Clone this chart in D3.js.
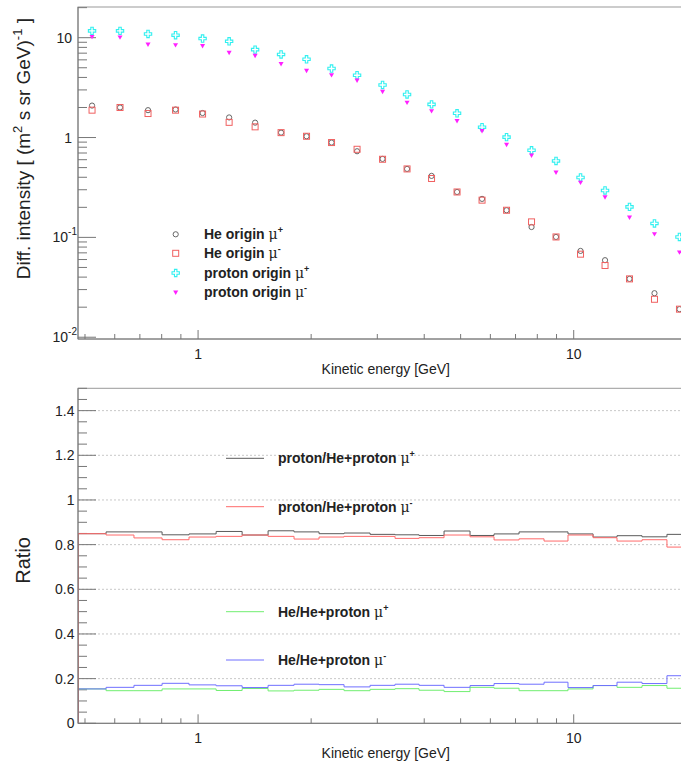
<!DOCTYPE html>
<html>
<head>
<meta charset="utf-8">
<script src="https://cdn.jsdelivr.net/npm/d3@7"></script>
<style>
  body { margin: 0; background: #fff; }
  svg { display: block; font-family: "Liberation Sans", Arial, sans-serif; }
  .frame { fill: none; stroke: #9a9a9a; stroke-width: 1; }
  .tick { stroke: #777; stroke-width: 1; }
  .grid { stroke: #c8c8c8; stroke-width: 1; stroke-dasharray: 2,2; }
  .lbl { font-size: 14px; fill: #222; }
  .leg { font-size: 14px; font-weight: bold; fill: #222; }
</style>
</head>
<body>
<svg id="chart" width="681" height="767"></svg>
<script>
//////////////////////////////////////////////////////////////////////////////////////////
// Data
//////////////////////////////////////////////////////////////////////////////////////////

// kinetic energy bin edges [GeV]
const bin_edges = [0.479, 0.569, 0.675, 0.802, 0.946, 1.117, 1.310, 1.536, 1.801, 2.099,
  2.447, 2.870, 3.345, 3.875, 4.517, 5.297, 6.137, 7.153, 8.337, 9.656,
  11.26, 13.04, 15.20, 17.71, 20.65]

// differential intensity [(m2 s sr GeV)^-1]
const he_mu_plus = [2.09, 2.00, 1.88, 1.91, 1.76, 1.59, 1.41, 1.12, 1.03, 0.891,
  0.729, 0.611, 0.485, 0.413, 0.285, 0.243, 0.187, 0.127, 0.101, 0.0732,
  0.0591, 0.0384, 0.0276, 0.0191]
const he_mu_minus = [1.88, 2.00, 1.74, 1.88, 1.72, 1.42, 1.28, 1.12, 1.03, 0.891,
  0.763, 0.606, 0.485, 0.389, 0.285, 0.236, 0.187, 0.143, 0.101, 0.0679,
  0.0523, 0.0384, 0.0240, 0.0191]
const proton_mu_plus = [11.7, 11.7, 10.9, 10.6, 9.8, 9.2, 7.6, 6.8, 6.08, 4.91,
  4.21, 3.36, 2.70, 2.15, 1.75, 1.27, 1.01, 0.746, 0.583, 0.398,
  0.295, 0.202, 0.138, 0.101]
const proton_mu_minus = [10.3, 10.2, 8.65, 8.53, 8.34, 7.15, 6.67, 5.51, 4.72, 4.27,
  3.77, 2.91, 2.26, 1.86, 1.48, 1.175, 0.857, 0.669, 0.452, 0.357,
  0.255, 0.160, 0.109, 0.0715]

// ratios
const ratio_proton_mu_plus = [0.849, 0.857, 0.857, 0.844, 0.848, 0.859, 0.843, 0.862, 0.857, 0.849,
  0.852, 0.846, 0.844, 0.841, 0.861, 0.841, 0.848, 0.857, 0.857, 0.848,
  0.834, 0.840, 0.835, 0.846]
const ratio_proton_mu_minus = [0.849, 0.843, 0.830, 0.822, 0.834, 0.837, 0.843, 0.837, 0.825, 0.834,
  0.837, 0.837, 0.828, 0.831, 0.843, 0.835, 0.821, 0.826, 0.816, 0.843,
  0.831, 0.816, 0.822, 0.789]
const ratio_he_mu_plus = [0.154, 0.146, 0.146, 0.154, 0.154, 0.147, 0.156, 0.145, 0.148, 0.152,
  0.146, 0.152, 0.155, 0.148, 0.142, 0.161, 0.157, 0.146, 0.146, 0.154,
  0.169, 0.161, 0.169, 0.157]
const ratio_he_mu_minus = [0.154, 0.161, 0.170, 0.179, 0.172, 0.168, 0.160, 0.170, 0.175, 0.173,
  0.163, 0.170, 0.175, 0.170, 0.161, 0.169, 0.178, 0.175, 0.184, 0.160,
  0.169, 0.184, 0.178, 0.213]

const x_major_ticks = [1, 10]
const y_top_major_ticks = [0.01, 0.1, 1, 10]
const y_top_tick_labels = [['10', '-2'], ['10', '-1'], ['1', ''], ['10', '']]
const y_bot_major_ticks = [0, 0.2, 0.4, 0.6, 0.8, 1, 1.2, 1.4]
const y_bot_tick_labels = ['0', '0.2', '0.4', '0.6', '0.8', '1', '1.2', '1.4']

const top_legend_names = ['He origin', 'He origin', 'proton origin', 'proton origin']
const bot_legend_names = ['proton/He+proton', 'proton/He+proton', 'He/He+proton', 'He/He+proton']
const legend_signs = ['+', '-', '+', '-']

//////////////////////////////////////////////////////////////////////////////////////////
// Layout
//////////////////////////////////////////////////////////////////////////////////////////

const svg = d3.select('#chart')
const left = 78, right = 692
const top_panel = { top: 7, bottom: 339 }
const bot_panel = { top: 388.3, bottom: 723.3 }

const x = d3.scaleLog().domain([bin_edges[0], bin_edges[bin_edges.length - 1]]).range([left, right])
const y_top = d3.scaleLog().domain([0.0096, 20.3]).range([top_panel.bottom, top_panel.top])
const y_bot = d3.scaleLinear().domain([0, 1.5]).range([bot_panel.bottom, bot_panel.top])

const centers = d3.range(bin_edges.length - 1).map(i => Math.sqrt(bin_edges[i] * bin_edges[i + 1]))

svg.append('defs').append('clipPath').attr('id', 'clip-bot')
  .append('rect').attr('x', left).attr('y', bot_panel.top)
  .attr('width', right - left).attr('height', bot_panel.bottom - bot_panel.top)

//////////////////////////////////////////////////////////////////////////////////////////
// Axes helpers
//////////////////////////////////////////////////////////////////////////////////////////

function draw_x_ticks(panel, label_y, title_y) {
  const g = svg.append('g')
  x.ticks().filter(t => t >= x.domain()[0] && t <= x.domain()[1]).forEach(t => {
    const major = x_major_ticks.includes(t)
    g.append('line').attr('class', 'tick')
      .attr('x1', x(t)).attr('x2', x(t))
      .attr('y1', panel.bottom).attr('y2', panel.bottom - (major ? 9 : 5))
  })
  x_major_ticks.forEach(t => {
    g.append('text').attr('class', 'lbl')
      .attr('x', x(t)).attr('y', label_y).attr('text-anchor', 'middle').text(t)
  })
  g.append('text').attr('class', 'lbl')
    .attr('x', 450).attr('y', title_y).attr('text-anchor', 'end')
    .text('Kinetic energy [GeV]')
  g.append('line').attr('class', 'tick')
    .attr('x1', left).attr('x2', right).attr('y1', panel.bottom).attr('y2', panel.bottom)
  g.append('line').attr('class', 'tick')
    .attr('x1', left).attr('x2', left).attr('y1', panel.top).attr('y2', panel.bottom)
}

//////////////////////////////////////////////////////////////////////////////////////////
// Top panel
//////////////////////////////////////////////////////////////////////////////////////////

svg.append('rect').attr('class', 'frame')
  .attr('x', left).attr('y', top_panel.top)
  .attr('width', right - left).attr('height', top_panel.bottom - top_panel.top)

y_top.ticks().forEach(t => {
  const major = y_top_major_ticks.some(m => Math.abs(m - t) / m < 1e-6)
  svg.append('line').attr('class', 'tick')
    .attr('x1', left).attr('x2', left + (major ? 18 : 9))
    .attr('y1', y_top(t)).attr('y2', y_top(t))
})

y_top_major_ticks.forEach((t, i) => {
  const lab = y_top_tick_labels[i]
  const txt = svg.append('text').attr('class', 'lbl')
    .attr('x', lab[1] ? 77 : 72).attr('y', y_top(t) + 5).attr('text-anchor', 'end')
  txt.append('tspan').text(lab[0])
  if (lab[1]) {
    txt.append('tspan').attr('font-size', '10px').attr('dy', -7).text(lab[1])
  }
})

draw_x_ticks(top_panel, 359, 374)

const y_title = svg.append('text').attr('class', 'lbl')
  .attr('transform', 'translate(30,18) rotate(-90)')
  .attr('text-anchor', 'end').style('font-size', '19px')
y_title.append('tspan').text('Diff. intensity [ (m')
y_title.append('tspan').attr('font-size', '13px').attr('dy', -8).text('2')
y_title.append('tspan').attr('dy', 8).text(' s sr GeV)')
y_title.append('tspan').attr('font-size', '13px').attr('dy', -8).text('-1')
y_title.append('tspan').attr('dy', 8).text(' ]')

// markers
const marker_styles = [
  { type: 'circle', color: '#666' },
  { type: 'square', color: '#f06060' },
  { type: 'cross', color: '#30f0f0' },
  { type: 'tri', color: '#ff20ff' }
]

function draw_marker(g, style, cx, cy) {
  if (style.type === 'circle') {
    g.append('circle').attr('cx', cx).attr('cy', cy).attr('r', 2.6)
      .attr('fill', 'none').attr('stroke', style.color).attr('stroke-width', 1)
  } else if (style.type === 'square') {
    g.append('rect').attr('x', cx - 3).attr('y', cy - 3).attr('width', 6).attr('height', 6)
      .attr('fill', 'none').attr('stroke', style.color).attr('stroke-width', 1)
  } else if (style.type === 'cross') {
    g.append('path').attr('d', d3.symbol(d3.symbolCross, 30)())
      .attr('transform', `translate(${cx},${cy})`)
      .attr('fill', 'none').attr('stroke', style.color).attr('stroke-width', 1.1)
  } else {
    g.append('path').attr('d', d3.symbol(d3.symbolTriangle, 11)())
      .attr('transform', `translate(${cx},${cy}) rotate(180)`)
      .attr('fill', style.color)
  }
}

const top_series = [he_mu_plus, he_mu_minus, proton_mu_plus, proton_mu_minus]
const g_points = svg.append('g')
top_series.forEach((series, s) => {
  series.forEach((v, i) => draw_marker(g_points, marker_styles[s], x(centers[i]), y_top(v)))
})

// top legend
const top_leg_rows = [234.3, 253.3, 273, 292]
top_legend_names.forEach((name, i) => {
  draw_marker(svg, marker_styles[i], 175.7, top_leg_rows[i])
  const t = svg.append('text').attr('class', 'leg')
    .attr('x', 204).attr('y', top_leg_rows[i] + 5)
  t.append('tspan').text(name + ' ')
  t.append('tspan').attr('font-weight', 'normal').attr('font-family', 'DejaVu Serif').text('\u03bc')
  t.append('tspan').attr('font-size', '9px').attr('dy', -6).text(legend_signs[i])
})

//////////////////////////////////////////////////////////////////////////////////////////
// Bottom panel
//////////////////////////////////////////////////////////////////////////////////////////

svg.append('rect').attr('class', 'frame')
  .attr('x', left).attr('y', bot_panel.top)
  .attr('width', right - left).attr('height', bot_panel.bottom - bot_panel.top)

y_bot_major_ticks.filter(t => t > 0).forEach(t => {
  svg.append('line').attr('class', 'grid')
    .attr('x1', left).attr('x2', right).attr('y1', y_bot(t)).attr('y2', y_bot(t))
})

d3.range(0, 1.5001, 0.05).forEach(t => {
  const major = y_bot_major_ticks.some(m => Math.abs(m - t) < 1e-6)
  svg.append('line').attr('class', 'tick')
    .attr('x1', left).attr('x2', left + (major ? 18 : 9))
    .attr('y1', y_bot(t)).attr('y2', y_bot(t))
})

y_bot_major_ticks.forEach((t, i) => {
  svg.append('text').attr('class', 'lbl')
    .attr('x', 74.5).attr('y', y_bot(t) + 5).attr('text-anchor', 'end')
    .text(y_bot_tick_labels[i])
})

svg.append('text').attr('class', 'lbl')
  .attr('transform', 'translate(30,537) rotate(-90)')
  .attr('text-anchor', 'end').style('font-size', '20px').text('Ratio')

const hist_colors = ['#5a5a5a', '#ff6a6a', '#70ee70', '#6f6fff']
const hist_series = [ratio_proton_mu_plus, ratio_proton_mu_minus, ratio_he_mu_plus, ratio_he_mu_minus]
const draw_order = [2, 3, 0, 1]

const hist_line = d3.line().x(d => x(d[0])).y(d => y_bot(d[1]))

function hist_points(values) {
  const pts = [[bin_edges[0], 0]]
  values.forEach((v, i) => {
    pts.push([bin_edges[i], v])
    pts.push([bin_edges[i + 1], v])
  })
  pts.push([bin_edges[bin_edges.length - 1], 0])
  return pts
}

const g_hist = svg.append('g').attr('clip-path', 'url(#clip-bot)')
draw_order.forEach(s => {
  g_hist.append('path')
    .attr('d', hist_line(hist_points(hist_series[s])))
    .attr('fill', 'none').attr('stroke', hist_colors[s]).attr('stroke-width', 1)
})

draw_x_ticks(bot_panel, 743, 757.5)

// bottom legend
const bot_leg_rows = [458.3, 506.7, 611.7, 660]
bot_legend_names.forEach((name, i) => {
  svg.append('line').attr('x1', 226).attr('x2', 264)
    .attr('y1', bot_leg_rows[i]).attr('y2', bot_leg_rows[i])
    .attr('stroke', hist_colors[i]).attr('stroke-width', 1)
  const t = svg.append('text').attr('class', 'leg')
    .attr('x', 278).attr('y', bot_leg_rows[i] + 5)
  t.append('tspan').text(name + ' ')
  t.append('tspan').attr('font-weight', 'normal').attr('font-family', 'DejaVu Serif').text('\u03bc')
  t.append('tspan').attr('font-size', '9px').attr('dy', -6).text(legend_signs[i])
})
</script>
</body>
</html>
